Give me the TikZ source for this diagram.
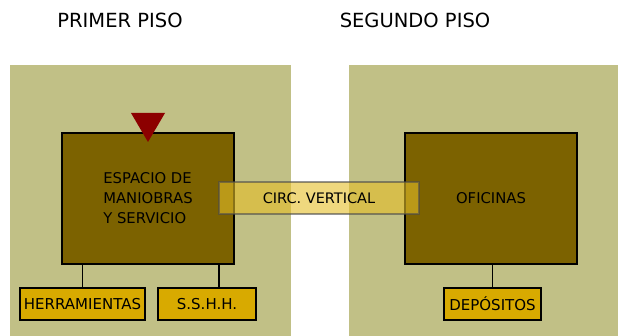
\documentclass[tikz,border=0pt]{standalone}
\usepackage{fontspec}
\setmainfont{DejaVu Sans}
\usepackage{xcolor}
\definecolor{panelgreen}{RGB}{193,192,134}
\definecolor{olivebrown}{RGB}{124,98,0}
\definecolor{gold}{RGB}{216,170,0}
\definecolor{darkred}{RGB}{140,0,0}
\definecolor{circyellow}{RGB}{228,190,40}

\tikzset{
  panel/.style={rectangle, fill=panelgreen, minimum width=#1, minimum height=271pt, inner sep=0pt},
  roombox/.style={rectangle, draw, line width=1.6pt, fill=olivebrown, minimum width=172pt, minimum height=131pt, align=left, font=\fontsize{14.8}{20}\selectfont},
  smallbox/.style={rectangle, draw, line width=1.6pt, fill=gold, minimum width=#1, minimum height=32pt, inner sep=0pt, font=\fontsize{15}{16}\selectfont},
  title/.style={font=\fontsize{19.5}{22}\selectfont},
  link/.style={line width=1.6pt}
}

\begin{document}
\begin{tikzpicture}[x=1pt, y=-1pt]
            \useasboundingbox (0,0) rectangle (618,336);

            % Panels
            \node[panel=281pt] (primer) at (150.5,200.5) {};
            \node[panel=269pt] (segundo) at (483.5,200.5) {};
            \node[title] (tprimer) at (120,20) {PRIMER PISO};
            \node[title] (tsegundo) at (415,20) {SEGUNDO PISO};

            % Primer piso
            \node[roombox] (espacio) at (148,198.5) {ESPACIO DE\\MANIOBRAS\\Y SERVICIO};
            \fill[darkred] (131,113) -- (165,113) -- (148,142) -- cycle;
            \node[smallbox=125pt] (herr) at (82.5,304) {HERRAMIENTAS};
            \node[smallbox=98pt] (sshh) at (207,304) {S.S.H.H.};
            \draw[link] (herr.north) -- (herr.north |- espacio.south);
            \draw[link] ([xshift=12pt]sshh.north) -- ([xshift=12pt]sshh.north |- espacio.south);

            % Segundo piso
            \node[roombox] (oficinas) at (491,198.5) {OFICINAS};
            \node[smallbox=97pt] (depositos) at (492.5,304) {DEPÓSITOS};
            \draw[link] (depositos.north) -- (depositos.north |- oficinas.south);

            % Circulacion
            \node[rectangle, draw=black!70, draw opacity=0.6, line width=1.6pt, fill=circyellow, fill opacity=0.6, text opacity=1, minimum width=200pt, minimum height=32pt, font=\fontsize{14.5}{16}\selectfont] (circ) at (319,198) {CIRC. VERTICAL};
        \end{tikzpicture}
\end{document}
